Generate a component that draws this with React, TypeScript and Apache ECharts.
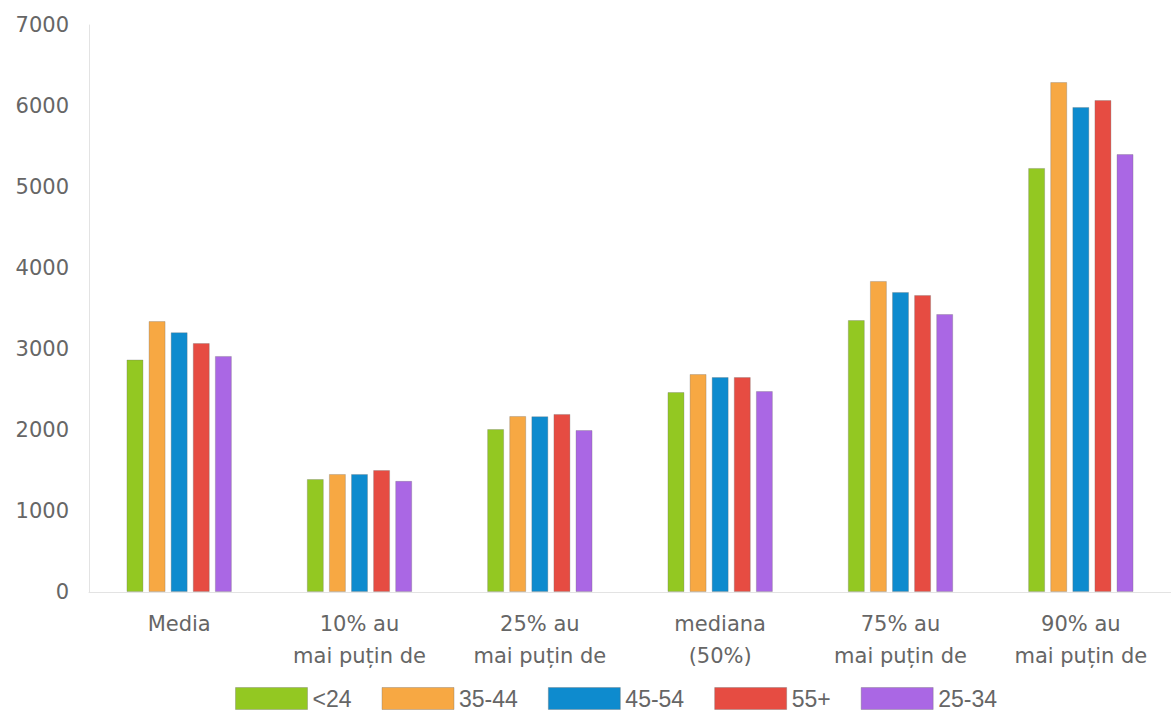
import React, { useEffect, useRef } from "react";
import * as echarts from "echarts";

const categories = [
  "Media",
  "10% au\nmai puțin de",
  "25% au\nmai puțin de",
  "mediana\n(50%)",
  "75% au\nmai puțin de",
  "90% au\nmai puțin de",
];
const seriesNames = ["<24", "35-44", "45-54", "55+", "25-34"];
const seriesColors = ["#93c822", "#f7a843", "#0e8bce", "#e64c42", "#aa67e4"];
const valuesLt24 = [2870, 1395, 2012, 2469, 3358, 5235];
const values3544 = [3345, 1457, 2173, 2691, 3840, 6296];
const values4554 = [3207, 1457, 2170, 2654, 3704, 5988];
const values55p = [3074, 1506, 2198, 2654, 3667, 6074];
const values2534 = [2914, 1372, 2000, 2481, 3432, 5407];
const yTicks = { min: 0, max: 7000, interval: 1000 };

export default function App() {
  const ref = useRef<HTMLDivElement>(null);
  useEffect(() => {
    if (!ref.current) return;
    const chart = echarts.init(ref.current, null, { renderer: "svg" });
    const data = [valuesLt24, values3544, values4554, values55p, values2534];
    chart.setOption({
      animation: false,
      backgroundColor: "#ffffff",
      grid: { left: 89, right: -11, top: 25, bottom: 120, containLabel: false },
      legend: {
        data: seriesNames,
        top: 687,
        left: 235,
        padding: 0,
        itemWidth: 72,
        itemHeight: 22,
        itemGap: 30,
        icon: "rect",
        itemStyle: { borderColor: "rgba(110,110,110,0.35)", borderWidth: 1 },
        textStyle: {
          color: "#666",
          fontSize: 23,
          lineHeight: 22,
          fontFamily: "'Liberation Sans', Arial, sans-serif",
        },
      },
      xAxis: {
        type: "category",
        data: categories,
        axisLine: { show: true, lineStyle: { color: "#e3e3e3" } },
        axisTick: { show: false },
        axisLabel: {
          color: "#666",
          fontSize: 21,
          fontFamily: "'DejaVu Sans', sans-serif",
          lineHeight: 32,
          margin: 16,
          interval: 0,
        },
      },
      yAxis: {
        type: "value",
        min: yTicks.min,
        max: yTicks.max,
        interval: yTicks.interval,
        axisLine: { show: true, lineStyle: { color: "#e3e3e3" } },
        axisTick: { show: false },
        splitLine: { show: false },
        axisLabel: {
          color: "#666",
          fontSize: 21,
          fontFamily: "'DejaVu Sans', sans-serif",
          margin: 20,
          formatter: (v: number) => String(v),
        },
      },
      series: seriesNames.map((name, i) => ({
        name,
        type: "bar",
        data: data[i],
        barWidth: 17,
        barGap: "30%",
        itemStyle: {
          color: seriesColors[i],
          borderColor: "rgba(110,110,110,0.3)",
          borderWidth: 1,
        },
      })),
    });
    return () => chart.dispose();
  }, []);
  return <div ref={ref} style={{ width: 1171, height: 712, position: "absolute", left: 0, top: 0 }} />;
}
